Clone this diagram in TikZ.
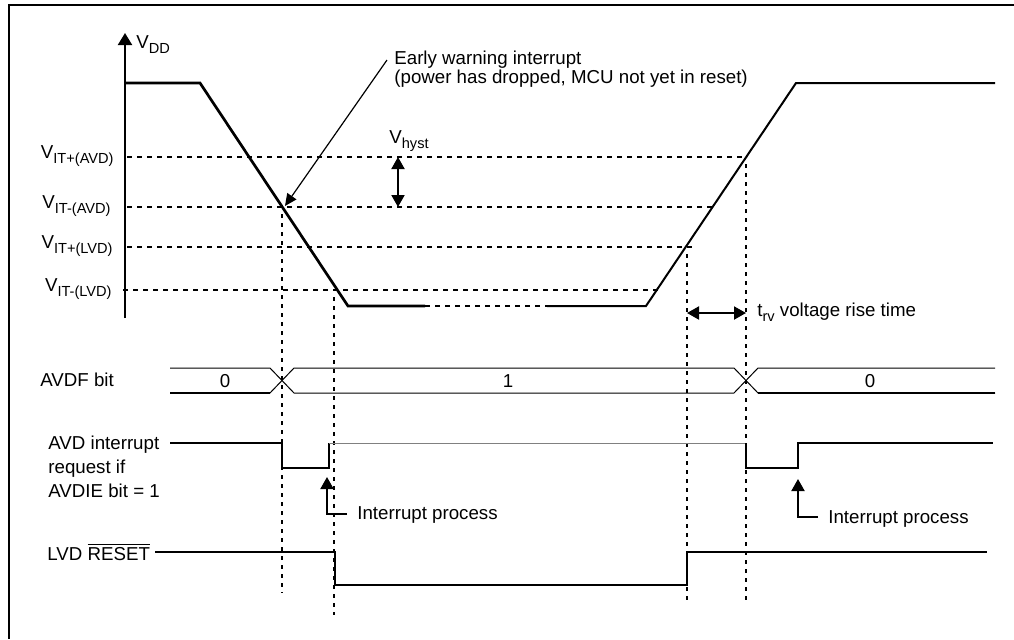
\documentclass[tikz,border=0pt]{standalone}
\usepackage{fontspec}
\setmainfont{Liberation Sans}
\usetikzlibrary{arrows.meta}
\newcommand{\vsub}[1]{\raisebox{-2.5pt}{\fontsize{7.3pt}{8pt}\selectfont #1}}
\begin{document}
\begin{tikzpicture}[x=0.5pt,y=-0.5pt,
  every node/.style={inner sep=0pt},
  font=\fontsize{9.35pt}{11.2pt}\selectfont,
  vddline/.style={line width=1.35pt},
  wave/.style={line width=1pt},
  thinwave/.style={line width=0.5pt},
  level/.style={line width=1pt,dash pattern=on 2.5pt off 2.5pt},
  guide/.style={line width=1.1pt,dash pattern=on 2.2pt off 2.3pt},
  tip/.style={-{Triangle[length=6pt,width=6.5pt]}},
  dtip/.style={{Triangle[length=6pt,width=6.5pt]}-{Triangle[length=6pt,width=6.5pt]}}]
\useasboundingbox (0,0) rectangle (1014,639);
\draw[line width=1.15pt] (1014,5) -- (9,5) -- (9,639);
% supply voltage
\draw[wave,-{Triangle[length=6pt,width=7pt]}] (125,318) -- (125,33);
\node[anchor=base west] (vdd) at (136,48) {V\vsub{DD}};
\draw[vddline] (125,83) -- (200,83) -- (348,306) -- (425,306);
\draw[vddline,dash pattern=on 2.5pt off 2.5pt] (425,306) -- (547,306);
\draw[wave] (547,306) -- (646,306) -- (796,83) -- (995,83);
% thresholds
\draw[level] (127,156.7) -- (747,156.7);
\draw[level] (127,206.7) -- (715,206.7);
\draw[level] (127,246.7) -- (693,246.7);
\draw[level] (123,290) -- (660,290);
\node[anchor=base east] (itpa) at (114,158) {V\vsub{IT+(AVD)}};
\node[anchor=base east] (itma) at (111,208) {V\vsub{IT-(AVD)}};
\node[anchor=base east] (itpl) at (113,248) {V\vsub{IT+(LVD)}};
\node[anchor=base east] (itml) at (112,291) {V\vsub{IT-(LVD)}};
\draw[guide] (282,214) -- (282,593);
\draw[guide] (334,297) -- (334,615);
\draw[guide] (687,254) -- (687,600);
\draw[guide] (746,164) -- (746,600);
% annotations
\node[anchor=base west,align=left,font=\fontsize{9.35pt}{9.5pt}\selectfont] (warn) at (394,83)
  {Early warning interrupt\\(power has dropped, MCU not yet in reset)};
\coordinate (warnfrom) at (387,60);
\coordinate (warnto) at (285,206);
\draw[line width=0.6pt,-{Triangle[length=6pt,width=5.5pt]}] (warnfrom) -- (warnto);
\node[anchor=base west] (hyst) at (389,143) {V\vsub{hyst}};
\draw[wave,dtip] (398,157) -- (398,207);
\draw[wave,dtip] (687,313) -- (746,313);
\node[anchor=base west] (trv) at (757,316) {t\vsub{rv} voltage rise time};
% AVDF bit
\node[anchor=base west] (avdf) at (40,386) {AVDF bit};
\draw[thinwave] (170,368) -- (270,368) -- (294,393) -- (734,393) -- (758,368) -- (995,368);
\draw[thinwave] (170,393) -- (270,393) -- (294,368) -- (734,368) -- (758,393) -- (995,393);
\draw[wave] (170,393) -- (270,393);
\draw[wave] (758,393) -- (995,393);
\node[anchor=base] (b0) at (225,387) {0};
\node[anchor=base] (b1) at (508,387) {1};
\node[anchor=base] (b2) at (870,387) {0};
% AVD interrupt request
\node[anchor=base west,align=left,font=\fontsize{9.35pt}{12pt}\selectfont] (avdreq) at (48,497)
  {AVD interrupt\\request if\\AVDIE bit = 1};
\draw[wave] (170,443) -- (282,443) -- (282,468) -- (329,468) -- (329,443);
\draw[thinwave,gray] (329,443) -- (746,443);
\draw[wave] (746,443) -- (746,468) -- (798,468) -- (798,443) -- (993,443);
\node[anchor=base west] (ip1) at (357,519) {Interrupt process};
\node[anchor=base west] (ip2) at (828,523) {Interrupt process};
\coordinate (ip1to) at (327,477);
\coordinate (ip2to) at (798,479);
\draw[wave,tip] (347,514) -| (ip1to);
\draw[wave,tip] (818,517) -| (ip2to);
% LVD reset
\node[anchor=base west] (lvd) at (47,560) {LVD $\overline{\hbox{RESET}}$};
\draw[wave] (155,552) -- (335,552) -- (335,585) -- (687,585) -- (687,552) -- (987,552);
\end{tikzpicture}
\end{document}
